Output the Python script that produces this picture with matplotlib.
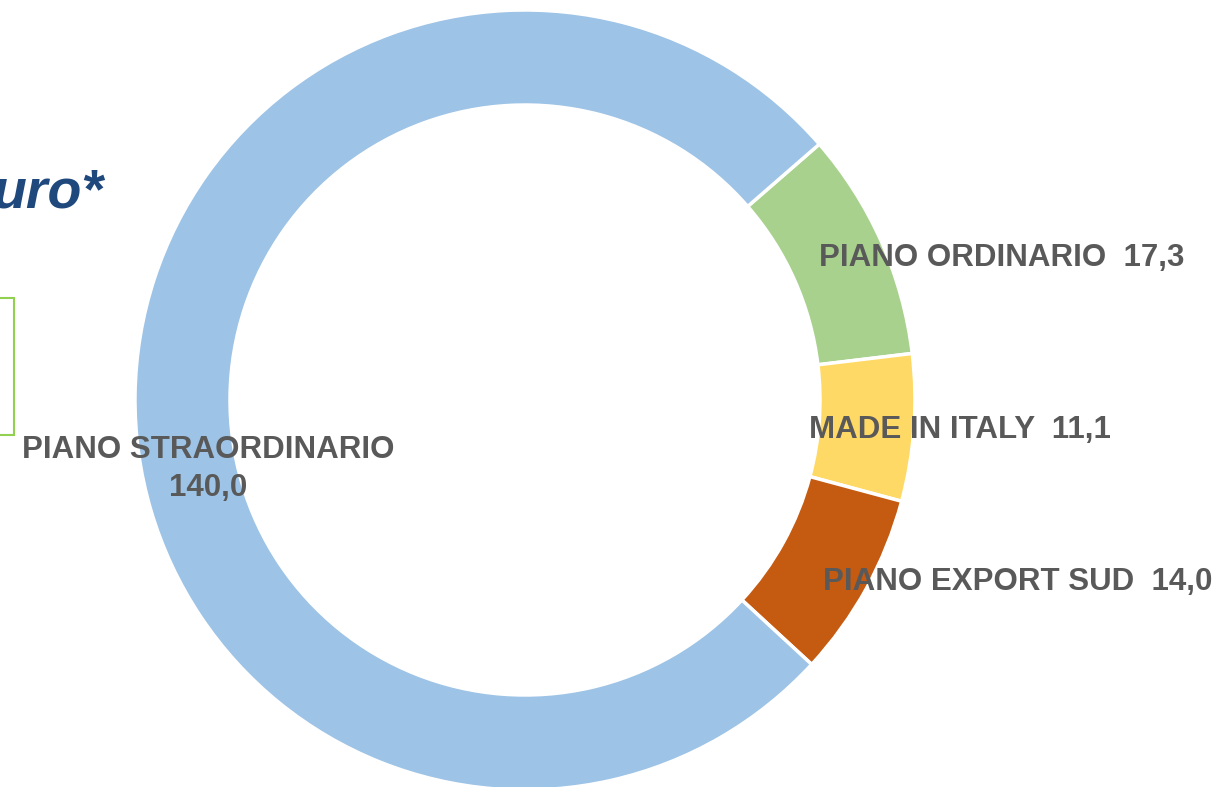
import matplotlib
matplotlib.use('agg')
from matplotlib import pyplot as plt
from matplotlib.patches import Rectangle

# data, in the order it goes round the ring (clockwise from upper right)
categories = ['PIANO ORDINARIO', 'MADE IN ITALY', 'PIANO EXPORT SUD', 'PIANO STRAORDINARIO']
values = [17.3, 11.1, 14.0, 140.0]
colors = ['#A9D18E', '#FFD966', '#C55A11', '#9DC3E6']

W, H = 1222, 787
fig = plt.figure(figsize=(W / 100, H / 100), dpi=100)
ax = fig.add_axes([0, 0, 1, 1])
ax.set_xlim(0, W)
ax.set_ylim(0, H)
ax.set_aspect('equal')
ax.axis('off')

cx, cy = 525, H - 400
ax.pie(values, colors=colors, center=(cx, cy), radius=390, startangle=41,
       counterclock=False, frame=True,
       wedgeprops=dict(width=95, edgecolor='white', linewidth=2.5))
ax.set_xlim(0, W)
ax.set_ylim(0, H)
ax.axis('off')


def fmt(v):
    return f'{v:.1f}'.replace('.', ',')


lab_style = dict(fontsize=22.5, fontweight='bold', color='#595959',
                 family='Liberation Sans', ha='center', va='center')
ax.text(1002, H - 258, f'{categories[0]}  {fmt(values[0])}', **lab_style)
ax.text(960, H - 430, f'{categories[1]}  {fmt(values[1])}', **lab_style)
ax.text(1018, H - 582, f'{categories[2]}  {fmt(values[2])}', **lab_style)
ax.text(208, H - 469, f'{categories[3]}\n{fmt(values[3])}', linespacing=1.35, **lab_style)

# pieces of the slide cut off on the left
ax.text(104, H - 193, 'uro*', fontsize=40, fontweight='bold', fontstyle='italic',
        color='#1F497D', family='Liberation Sans', ha='right', va='center')
ax.add_patch(Rectangle((-20, H - 435), 34, 137, fill=False, edgecolor='#92D050', linewidth=1.5))

fig.savefig('out.png', dpi=100)
